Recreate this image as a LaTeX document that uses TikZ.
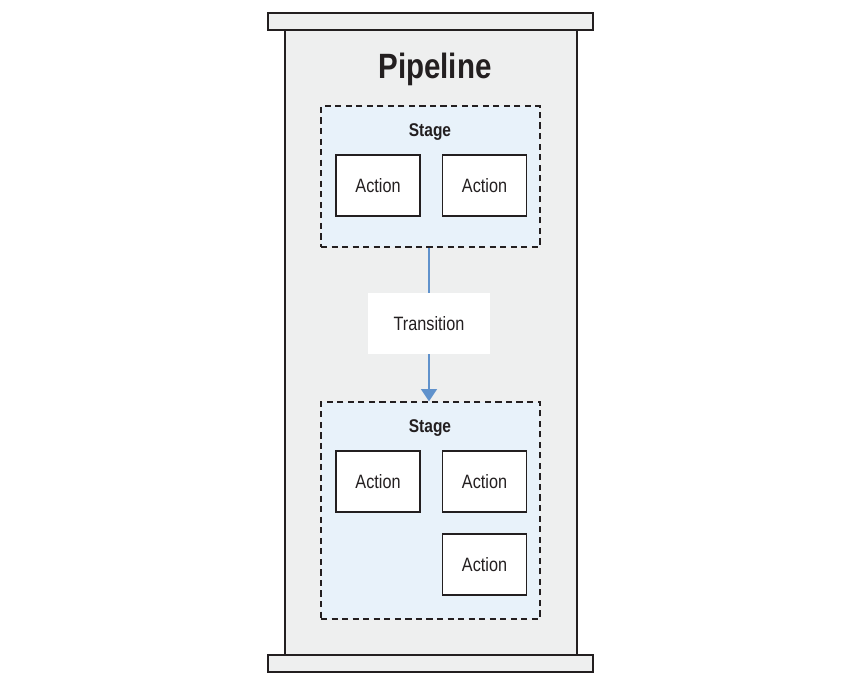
\documentclass[tikz,border=0pt]{standalone}
\usepackage{fontspec}
\setmainfont{Liberation Sans}[FakeStretch=0.84]
\usetikzlibrary{arrows.meta}
\definecolor{pipegray}{RGB}{238,239,239}
\definecolor{stageblue}{RGB}{232,242,250}
\definecolor{arrowblue}{RGB}{96,146,204}
\definecolor{inkdark}{RGB}{35,31,32}
\begin{document}
\begin{tikzpicture}[x=0.02cm, y=-0.02cm, text=inkdark,
  bar/.style={draw=inkdark, fill=pipegray, line width=0.8pt},
  stagebox/.style={draw=inkdark, fill=stageblue, dash pattern=on 3.5pt off 2.5pt, line width=0.7pt},
  action/.style={draw=inkdark, fill=white, line width=0.7pt, minimum width=1.68cm, minimum height=1.22cm, font=\fontsize{11}{13}\selectfont},
  flow/.style={draw=arrowblue, line width=1.1pt}]
\useasboundingbox (0,0) rectangle (862,686);
% pipeline body and the two bars
\draw [bar] (285,30) rectangle (577,655);
\draw [bar] (268,13) rectangle (593,30);
\draw [bar] (268,655) rectangle (593,672);
\node (pipeline) at (435,69) {\fontsize{20}{24}\selectfont\bfseries Pipeline};
% first stage
\node [stagebox, minimum width=4.38cm, minimum height=2.82cm] (stageA) at (430.5,176.5) {};
\node (stageAlabel) at (430,132) {\fontsize{10.5}{12}\selectfont\bfseries Stage};
\node [action] (actA1) at (378,185.5) {Action};
\node [action] (actA2) at (484.5,185.5) {Action};
% second stage
\node [stagebox, minimum width=4.38cm, minimum height=4.34cm] (stageB) at (430.5,510.5) {};
\node (stageBlabel) at (430,428) {\fontsize{10.5}{12}\selectfont\bfseries Stage};
\node [action] (actB1) at (378,481.5) {Action};
\node [action] (actB2) at (484.5,481.5) {Action};
\node [action] (actB3) at (484.5,564.5) {Action};
% transition between the stages
\node [fill=white, minimum width=2.44cm, minimum height=1.22cm, font=\fontsize{11}{13}\selectfont] (trans) at (429,323.5) {Transition};
\draw [flow] (stageA.south -| trans) -- (trans);
\draw [flow, -{Triangle[length=7pt, width=9pt]}] (trans) -- (stageB.north -| trans);
\end{tikzpicture}
\end{document}
